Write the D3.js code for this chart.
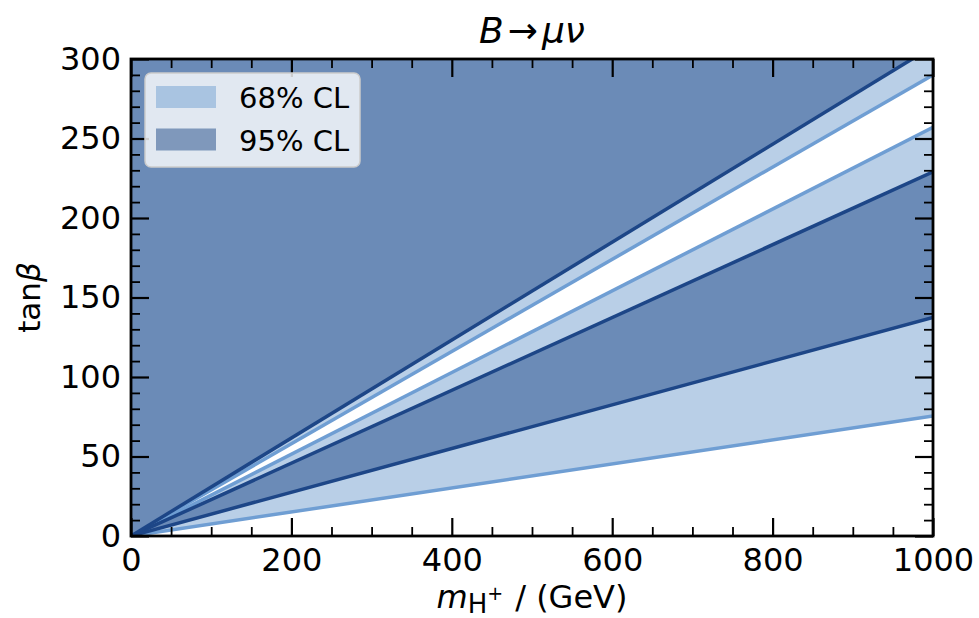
<!DOCTYPE html>
<html>
<head>
<meta charset="utf-8">
<script src="https://cdn.jsdelivr.net/npm/d3@7"></script>
<style>
  html, body { margin: 0; padding: 0; background: #fff; }
  svg { display: block; font-family: "DejaVu Sans", sans-serif; }
</style>
</head>
<body>
<svg id="chart" width="979" height="618"></svg>
<script>
// ---- data ----
const mH = [0, 1000];                 // charged Higgs mass (GeV)
const line68a = [0, 75.5];            // 68% boundary (lowest)
const line95a = [0, 137.5];           // 95% boundary
const line95b = [0, 229];             // 95% boundary
const line68b = [0, 257];             // 68% boundary
const line68c = [0, 290];             // 68% boundary
const line95c = [0, 308];             // 95% boundary (upper)
const topEdge = [300, 300];           // y-axis maximum
const xTicks = [0, 200, 400, 600, 800, 1000];
const yTicks = [0, 50, 100, 150, 200, 250, 300];
const xMinor = d3.range(0, 1001, 50).filter(v => v % 200 !== 0);
const yMinor = d3.range(0, 301, 10).filter(v => v % 50 !== 0);
const legendLabels = ["68% CL", "95% CL"];

// ---- styles ----
const darkFill = "#6b8bb7", lightFill = "#b9cfe7";
const darkLine = "#1d4687", lightLine = "#6f9ed3";
const legendColors = ["#a9c4e1", "#7f98bb"];

const margin = {left: 131, top: 59, right: 979 - 933, bottom: 618 - 536};
const W = 979 - margin.left - margin.right;
const H = 618 - margin.top - margin.bottom;

const svg = d3.select("#chart");
const g = svg.append("g").attr("transform", `translate(${margin.left},${margin.top})`);

const x = d3.scaleLinear().domain([0, 1000]).range([0, W]);
const y = d3.scaleLinear().domain([0, 300]).range([H, 0]);

g.append("clipPath").attr("id", "clip").append("rect")
  .attr("width", W).attr("height", H);

const plot = g.append("g").attr("clip-path", "url(#clip)");

const bands = [
  {lo: line68a, hi: line95a, fill: lightFill},
  {lo: line95a, hi: line95b, fill: darkFill},
  {lo: line95b, hi: line68b, fill: lightFill},
  {lo: line68c, hi: line95c, fill: lightFill},
  {lo: line95c, hi: topEdge, fill: darkFill}
];
const area = d3.area()
  .x((d) => x(d.x)).y0(d => y(d.lo)).y1(d => y(d.hi));
bands.forEach(b => {
  const pts = mH.map((m, i) => ({x: m, lo: b.lo[i], hi: b.hi[i]}));
  plot.append("path").attr("d", area(pts)).attr("fill", b.fill).attr("stroke", "none");
});

const line = d3.line().x(d => x(d[0])).y(d => y(d[1]));
const lines = [
  {v: line68a, c: lightLine}, {v: line68b, c: lightLine}, {v: line68c, c: lightLine},
  {v: line95a, c: darkLine}, {v: line95b, c: darkLine}, {v: line95c, c: darkLine}
];
lines.forEach(l => {
  plot.append("path").attr("d", line(mH.map((m, i) => [m, l.v[i]])))
    .attr("fill", "none").attr("stroke", l.c).attr("stroke-width", 3.5);
});

// ---- axes ----
function styleAxis(sel, w) {
  sel.select(".domain").remove();
  sel.selectAll(".tick line").attr("stroke", "#000").attr("stroke-width", w);
}
const fs = 32;
// bottom
g.append("g").attr("transform", `translate(0,${H})`)
  .call(d3.axisBottom(x).tickValues(xTicks).tickSize(-18).tickPadding(12).tickFormat(d3.format("d")))
  .call(s => styleAxis(s, 2.2))
  .selectAll("text").attr("font-size", fs).attr("fill", "#000").attr("font-family", "DejaVu Sans");
g.append("g").attr("transform", `translate(0,${H})`)
  .call(d3.axisBottom(x).tickValues(xMinor).tickSize(-9).tickFormat(""))
  .call(s => styleAxis(s, 1.8));
// top
g.append("g")
  .call(d3.axisTop(x).tickValues(xTicks).tickSize(-18).tickFormat(""))
  .call(s => styleAxis(s, 2.2));
g.append("g")
  .call(d3.axisTop(x).tickValues(xMinor).tickSize(-9).tickFormat(""))
  .call(s => styleAxis(s, 1.8));
// left
g.append("g")
  .call(d3.axisLeft(y).tickValues(yTicks).tickSize(-18).tickPadding(10).tickFormat(d3.format("d")))
  .call(s => styleAxis(s, 2.2))
  .selectAll("text").attr("font-size", fs).attr("fill", "#000").attr("font-family", "DejaVu Sans");
g.append("g")
  .call(d3.axisLeft(y).tickValues(yMinor).tickSize(-9).tickFormat(""))
  .call(s => styleAxis(s, 1.8));
// right
g.append("g").attr("transform", `translate(${W},0)`)
  .call(d3.axisRight(y).tickValues(yTicks).tickSize(-18).tickFormat(""))
  .call(s => styleAxis(s, 2.2));
g.append("g").attr("transform", `translate(${W},0)`)
  .call(d3.axisRight(y).tickValues(yMinor).tickSize(-9).tickFormat(""))
  .call(s => styleAxis(s, 1.8));

// spines
g.append("rect").attr("width", W).attr("height", H)
  .attr("fill", "none").attr("stroke", "#000").attr("stroke-width", 2.8);

// ---- legend ----
const lg = svg.append("g");
lg.append("rect").attr("x", 145).attr("y", 73).attr("width", 215).attr("height", 94)
  .attr("rx", 6).attr("fill", "#fff").attr("fill-opacity", 0.8)
  .attr("stroke", "#cccccc").attr("stroke-width", 1.5);
legendLabels.forEach((t, i) => {
  lg.append("rect").attr("x", 156).attr("y", 86 + i * 42.5).attr("width", 60).attr("height", 22)
    .attr("fill", legendColors[i]);
  lg.append("text").attr("x", 239).attr("y", 108 + i * 42.5)
    .attr("font-size", 29).attr("fill", "#000").text(t);
});

// ---- titles ----
const title = svg.append("text").attr("x", margin.left + W / 2).attr("y", 43)
  .attr("text-anchor", "middle").attr("font-size", 36).attr("fill", "#000");
title.append("tspan").attr("font-style", "italic").text("B");
title.append("tspan").attr("dx", 4).text("\u2192");
title.append("tspan").attr("dx", 4).attr("font-style", "italic").text("\u03bc\u03bd");

const xl = svg.append("text").attr("x", margin.left + W / 2).attr("y", 608)
  .attr("text-anchor", "middle").attr("font-size", 32).attr("fill", "#000");
xl.append("tspan").attr("font-style", "italic").text("m");
xl.append("tspan").attr("font-size", 26).attr("dy", 5).text("H");
xl.append("tspan").attr("font-size", 19).attr("dy", -13).text("+");
xl.append("tspan").attr("dy", 8).attr("dx", 12).text("/ (GeV)");

const yl = svg.append("text").attr("transform", `translate(40,${margin.top + H / 2}) rotate(-90)`)
  .attr("text-anchor", "middle").attr("font-size", 31).attr("fill", "#000");
yl.append("tspan").text("tan");
yl.append("tspan").attr("font-style", "italic").text("\u03b2");
</script>
</body>
</html>
